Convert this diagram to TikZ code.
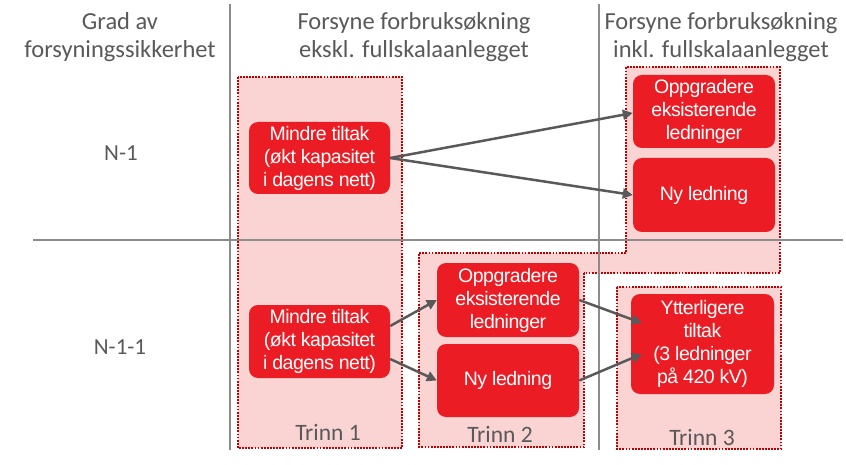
\documentclass[tikz,border=0pt]{standalone}
\usepackage{fontspec}
\setmainfont{Carlito}
\newfontfamily\arialf[LetterSpace=-2.5]{Liberation Sans}
\usetikzlibrary{arrows.meta,calc}
\definecolor{boxred}{HTML}{EC1C24}
\definecolor{zonefill}{HTML}{FAD3D3}
\definecolor{zoneline}{HTML}{C00000}
\definecolor{arrowgray}{HTML}{595959}
\definecolor{linegray}{HTML}{8C8C8C}
\definecolor{txtgray}{HTML}{595959}
\begin{document}
\begin{tikzpicture}[x=1pt,y=-1pt,
  redbox/.style={fill=boxred, rounded corners=9pt, text=white,
    font=\arialf\fontsize{19.5}{23}\selectfont, align=center, inner sep=0pt},
  zonebg/.style={fill=zonefill},
  zoneedge/.style={draw=zoneline, line width=2pt, dash pattern=on 1.8pt off 1.3pt},
  conn/.style={draw=arrowgray, line width=2.5pt, -{Triangle[length=10pt,width=10pt]}},
  grid/.style={draw=linegray, line width=1.5pt},
  head/.style={text=txtgray, font=\fontsize{24.5}{28.5}\selectfont, align=center, inner sep=0pt},
  rowlab/.style={text=txtgray, font=\fontsize{23}{28}\selectfont, inner sep=0pt},
  trinn/.style={text=txtgray, font=\fontsize{23.5}{26}\selectfont, inner sep=0pt}
]
\useasboundingbox (0,0) rectangle (846,465);
% zones
\path[zonebg] (238,77) rectangle (402,448);
\path[zonebg] (584,273)--(584,447)--(419,447)--(419,253)--(626,253)--(626,67)--(780,67)--(780,273)--cycle;
\path[zonebg] (617,287) rectangle (781,449);
\path[zoneedge] (238,77) rectangle (402,448);
\path[zoneedge] (584,273)--(584,447)--(419,447)--(419,253)--(626,253)--(626,67)--(780,67)--(780,273)--cycle;
\path[zoneedge] (617,287) rectangle (781,449);
% grid lines
\coordinate (v1t) at (230,4);
\coordinate (v1b) at (230,450);
\coordinate (v2t) at (599,4);
\coordinate (v2b) at (599,450);
\coordinate (hl) at (33,240);
\coordinate (hr) at (843,240);
\path[grid] (v1t) -- (v1b);
\path[grid] (v2t) -- (v2b);
\path[grid] (hl) -- (hr);
% headers
\node[head] (h1) at (120,37) {Grad av\\forsyningssikkerhet};
\node[head] (h2) at (414,37) {Forsyne forbruksøkning\\ekskl. fullskalaanlegget};
\node[head] (h3) at (721,37) {Forsyne forbruksøkning\\inkl. fullskalaanlegget};
\node[rowlab] (r1) at (121,153) {N-1};
\node[rowlab] (r2) at (120,347) {N-1-1};
% trinn labels
\node[trinn] (t1) at (328,432) {Trinn 1};
\node[trinn] (t2) at (500,434) {Trinn 2};
\node[trinn] (t3) at (702,437) {Trinn 3};
% boxes
\node[redbox, minimum width=141pt, minimum height=72pt] (m1) at (319.5,158) {Mindre tiltak\\(økt kapasitet\\i dagens nett)};
\node[redbox, minimum width=141pt, minimum height=73pt] (m2) at (319.5,341.5) {Mindre tiltak\\(økt kapasitet\\i dagens nett)};
\node[redbox, minimum width=142pt, minimum height=74pt] (o2) at (508,300) {Oppgradere\\eksisterende\\ledninger};
\node[redbox, minimum width=142pt, minimum height=73pt] (n2) at (508,380.5) {Ny ledning};
\node[redbox, minimum width=142pt, minimum height=73pt] (o3) at (704,111.5) {Oppgradere\\eksisterende\\ledninger};
\node[redbox, minimum width=142pt, minimum height=74pt] (n3) at (704,195) {Ny ledning};
\node[redbox, minimum width=143pt, minimum height=100pt] (y3) at (702.5,344) {Ytterligere\\tiltak\\(3 ledninger\\på 420 kV)};
% connectors
\draw[conn] (m1.east) -- ($(o3.west)+(0,1.5)$);
\draw[conn] (m1.east) -- (n3.west);
\draw[conn] ($(m2.east)+(0,-15.5)$) -- (o2.west);
\draw[conn] ($(m2.east)+(0,17.5)$) -- (n2.west);
\draw[conn] (o2.east) -- ($(y3.west)+(11,-21)$);
\draw[conn] (n2.east) -- ($(y3.west)+(11,10)$);
\end{tikzpicture}
\end{document}
